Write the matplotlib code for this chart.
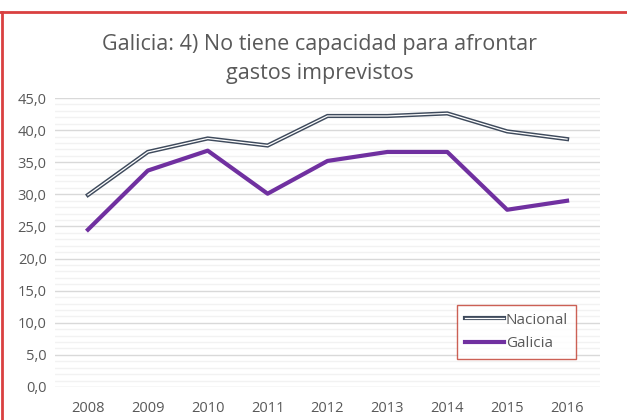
import matplotlib
matplotlib.use("Agg")
import matplotlib.pyplot as plt
from matplotlib.lines import Line2D
from matplotlib.ticker import MultipleLocator, FuncFormatter
from matplotlib.legend_handler import HandlerTuple

years = ["2008", "2009", "2010", "2011", "2012", "2013", "2014", "2015", "2016"]
nacional = [29.9, 36.6, 38.7, 37.6, 42.2, 42.2, 42.6, 39.8, 38.6]
galicia = [24.5, 33.7, 36.8, 30.1, 35.2, 36.6, 36.6, 27.6, 29.0]
title = "Galicia: 4) No tiene capacidad para afrontar\ngastos imprevistos"

plt.rcParams['font.family'] = ['Open Sans', 'DejaVu Sans']

fig = plt.figure(figsize=(6.27, 4.2), dpi=100)
ax = fig.add_axes([55/627, 1 - 387/420, 545/627, (387 - 98)/420])

x = list(range(len(years)))
ax.plot(x, nacional, color="#3E4A5C", lw=3.0, solid_joinstyle="miter", zorder=3)
ax.plot(x, nacional, color="white", lw=0.9, solid_joinstyle="miter", zorder=4)
ax.plot(x, galicia, color="#7030A0", lw=3.0, zorder=3)

ax.set_xlim(-0.55, len(years) - 0.45)
ax.set_ylim(0, 45)
ax.set_xticks(x)
ax.set_xticklabels(years)
ax.yaxis.set_major_locator(MultipleLocator(5))
ax.yaxis.set_minor_locator(MultipleLocator(1))
ax.yaxis.set_major_formatter(FuncFormatter(lambda v, p: f"{v:.1f}".replace(".", ",")))
ax.grid(which="major", axis="y", color="#D9D9D9", lw=1.0)
ax.grid(which="minor", axis="y", color="#F2F2F2", lw=1.0)
ax.tick_params(axis="both", which="both", length=0, labelsize=10.5, colors="#595959", pad=6)
ax.tick_params(axis="x", pad=10)
for s in ax.spines.values():
    s.set_visible(False)

fig.text(320/627, 1 - 59/420, title, ha="center", va="center", fontsize=15.5,
         color="#595959", linespacing=1.45)

handles = [
    (Line2D([0], [0], color="#3E4A5C", lw=3.0), Line2D([0], [0], color="white", lw=0.9)),
    Line2D([0], [0], color="#7030A0", lw=3.0),
]
leg = fig.legend(handles, ["Nacional", "Galicia"], handler_map={tuple: HandlerTuple(ndivide=1)},
                 loc="upper left", bbox_to_anchor=(457 / 627, 1 - 305 / 420),
                 borderaxespad=0, frameon=True, fancybox=False, fontsize=11, handlelength=2.6,
                 handletextpad=0.1, borderpad=0.5, labelspacing=0.55)
leg.get_frame().set_edgecolor("#C0392B")
leg.get_frame().set_linewidth(1.0)
for t in leg.get_texts():
    t.set_color("#595959")

# screenshot border
fig.add_artist(Line2D([0, 1], [1 - 12/420, 1 - 12/420], color="#D94040", lw=2, transform=fig.transFigure))
fig.add_artist(Line2D([1.5/627, 1.5/627], [0, 1 - 12/420], color="#D94040", lw=2, transform=fig.transFigure))

fig.savefig("out.png", dpi=100)
